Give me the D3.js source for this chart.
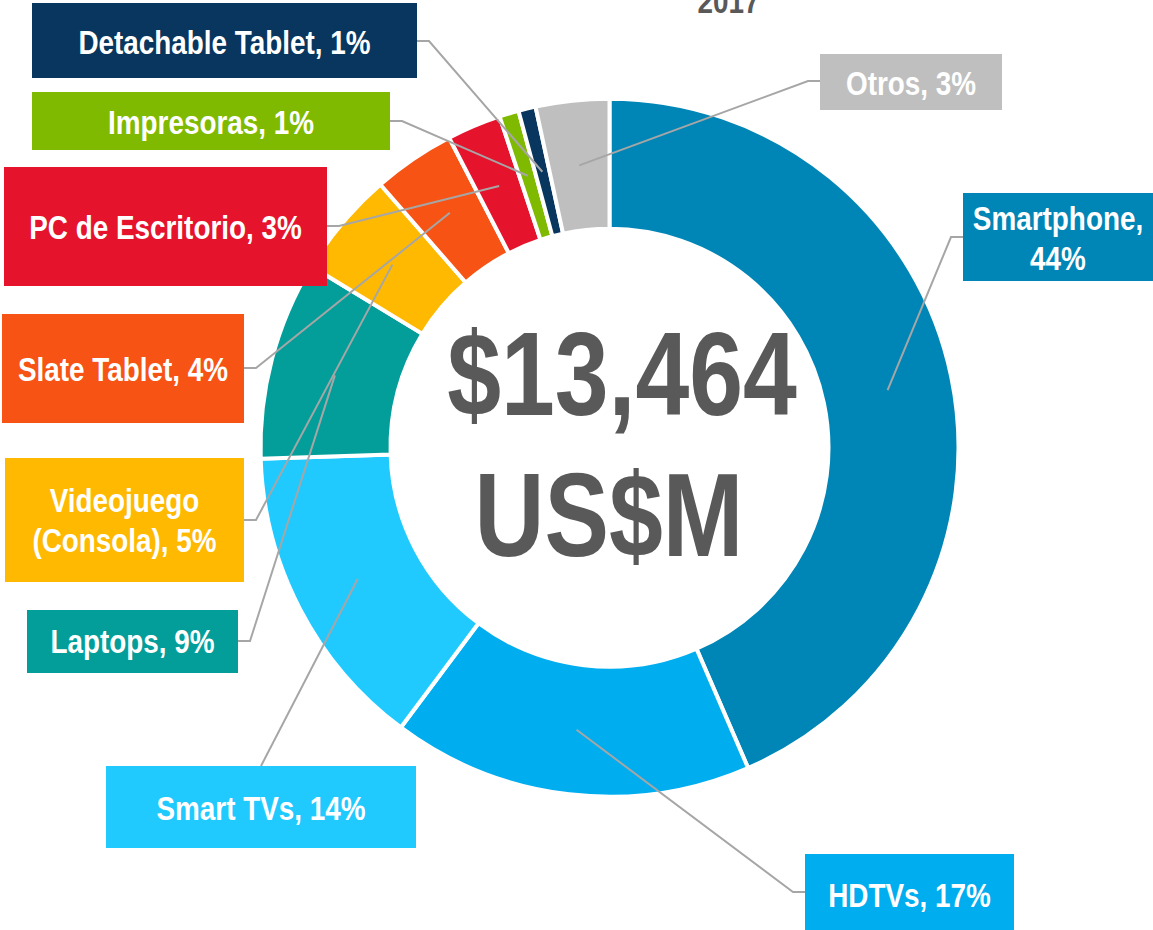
<!DOCTYPE html>
<html>
<head>
<meta charset="utf-8">
<script src="https://cdn.jsdelivr.net/npm/d3@7"></script>
<style>
  html, body { margin: 0; padding: 0; background: #fff; }
  svg { display: block; }
</style>
</head>
<body>
<svg id="chart"></svg>
<script>
// data (share of $13,464 US$M, 2017)
const categories = ["Smartphone", "HDTVs", "Smart TVs", "Laptops", "Videojuego (Consola)",
                    "Slate Tablet", "PC de Escritorio", "Impresoras", "Detachable Tablet", "Otros"];
const shares = [43.5, 16.7, 14.3, 9.2, 4.9, 3.8, 2.5, 0.9, 0.8, 3.4];
const shareLabels = ["44%", "17%", "14%", "9%", "5%", "4%", "3%", "1%", "1%", "3%"];
const colors = ["#0086B6", "#00ADEF", "#20CAFF", "#039E9A", "#FFB900",
                "#F65314", "#E6132D", "#7FBA00", "#08365E", "#BFBFBF"];
const totalLabel = "$13,464";
const unitLabel = "US$M";
const yearLabel = "2017";

// label boxes: position, text lines and where the leader line attaches
const boxes = [
  {x: 963, y: 193, w: 190, h: 88, lines: ["Smartphone,", "44%"], base: [230, 270], side: "left", ay: 237},
  {x: 805, y: 854, w: 209, h: 80, base: [907], side: "left", ay: 892},
  {x: 106, y: 766, w: 310, h: 82, base: [820], side: "top"},
  {x: 27, y: 610, w: 211, h: 63, base: [653], side: "right", ay: 641},
  {x: 5, y: 458, w: 239, h: 124, lines: ["Videojuego", "(Consola), 5%"], base: [512, 552], side: "right", ay: 520},
  {x: 2, y: 314, w: 242, h: 109, base: [381], side: "right", ay: 368},
  {x: 4, y: 167, w: 323, h: 119, base: [239], side: "right", ay: 226},
  {x: 32, y: 92, w: 358, h: 58, base: [134], side: "right", ay: 121},
  {x: 32, y: 3, w: 385, h: 75, base: [54], side: "right", ay: 41},
  {x: 820, y: 54, w: 182, h: 56, base: [95], side: "left", ay: 81}
];

const width = 1153, height = 930;
const cx = 609.5, cy = 447.7;
const gray = "#595959";

const svg = d3.select("#chart").attr("width", width).attr("height", height);

// use a narrow bold face if one is installed, otherwise squeeze the regular one
function pickFont() {
  const t = svg.append("text").attr("font-weight", "bold").attr("font-size", 100).text("Detachable Tablet");
  t.style("font-family", "'Liberation Sans Narrow'");
  const wn = t.node().getComputedTextLength();
  t.style("font-family", "'Liberation Sans'");
  const wr = t.node().getComputedTextLength();
  t.remove();
  if (wn < wr * 0.9) return {family: "'Liberation Sans Narrow', sans-serif", sx: 1};
  return {family: "'Liberation Sans', Arial, sans-serif", sx: 0.82};
}
const font = pickFont();

function addText(parent, str, x, y, size, fill) {
  parent.append("text")
    .attr("transform", `translate(${x},${y}) scale(${font.sx},1)`)
    .attr("text-anchor", "middle")
    .attr("font-family", font.family)
    .attr("font-weight", "bold")
    .attr("font-size", size)
    .attr("fill", fill)
    .text(str);
}

const pie = d3.pie().sort(null).value(d => d)(shares);
const arc = d3.arc().innerRadius(219).outerRadius(349);

const g = svg.append("g").attr("transform", `translate(${cx},${cy})`);

g.selectAll("path.slice")
  .data(pie)
  .enter()
  .append("path")
  .attr("class", "slice")
  .attr("d", arc)
  .attr("fill", (d, i) => colors[i])
  .attr("stroke", "#fff")
  .attr("stroke-width", 4);

// leader lines from each slice centroid to its box
svg.selectAll("path.leader")
  .data(pie)
  .enter()
  .append("path")
  .attr("class", "leader")
  .attr("fill", "none")
  .attr("stroke", "#A6A6A6")
  .attr("stroke-width", 2)
  .attr("d", (d, i) => {
    const c = arc.centroid(d);
    const b = boxes[i];
    const p0 = [cx + c[0], cy + c[1]];
    if (b.side === "top") return d3.line()([p0, [b.x + b.w / 2, b.y]]);
    const ex = b.side === "left" ? b.x : b.x + b.w;
    const el = b.side === "left" ? ex - 12 : ex + 12;
    return d3.line()([p0, [el, b.ay], [ex, b.ay]]);
  });

// label boxes
boxes.forEach((b, i) => {
  const lg = svg.append("g");
  lg.append("rect")
    .attr("x", b.x).attr("y", b.y)
    .attr("width", b.w).attr("height", b.h)
    .attr("fill", colors[i]);
  const lines = b.lines || [categories[i] + ", " + shareLabels[i]];
  lines.forEach((s, k) => addText(lg, s, b.x + b.w / 2, b.base[k], 34, "#fff"));
});

// centre total and the cut-off year title
addText(svg, totalLabel, 622, 415, 118, gray);
addText(svg, unitLabel, 609, 556, 118, gray);
addText(svg, yearLabel, 728.5, 13, 34, gray);
</script>
</body>
</html>
